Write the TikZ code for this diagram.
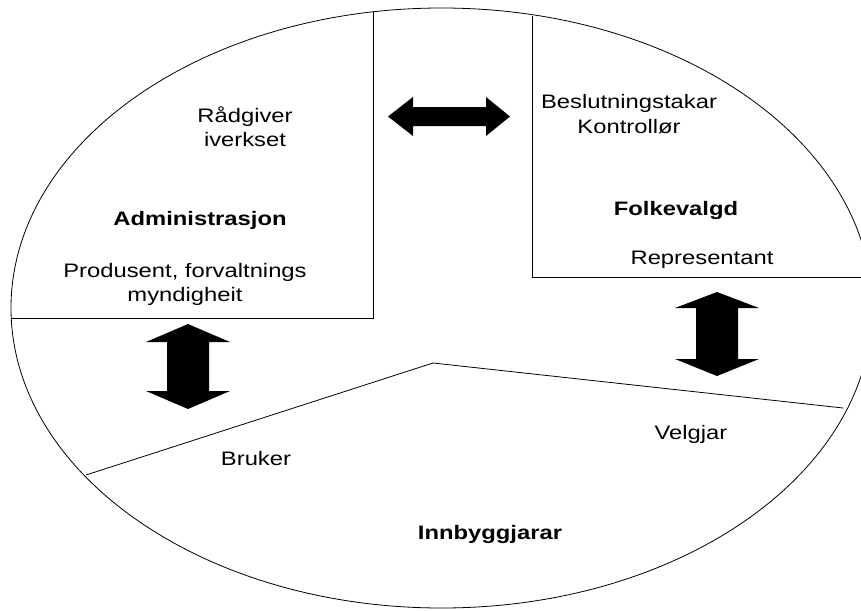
\documentclass[tikz,border=0pt]{standalone}
\usepackage{fontspec}
\setmainfont{Liberation Sans}[FakeStretch=1.22]
\usetikzlibrary{positioning}

\begin{document}
\begin{tikzpicture}[x=1pt,y=-1pt,line width=.8pt,
  every node/.style={font=\fontsize{19.5}{24}\selectfont,inner sep=0pt,anchor=base},
  title/.style={font=\fontsize{19.5}{24}\selectfont\bfseries},
  blockarrow/.style={fill=black}]
\useasboundingbox (0,0) rectangle (861,610);
\clip (0,0) rectangle (861,610);
\draw (441.6,308) ellipse [x radius=430.6, y radius=300];
\coordinate (a0) at (373,12);
\coordinate (a1) at (373,318);
\coordinate (a2) at (11,318);
\coordinate (f0) at (532,16);
\coordinate (f1) at (532,277);
\coordinate (f2) at (865,277);
\coordinate (i0) at (86,475);
\coordinate (i1) at (433,363);
\coordinate (i2) at (843,408);
\draw (a0)--(a1)--(a2);
\draw (f0)--(f1)--(f2);
\draw (i0)--(i1)--(i2);
\fill[blockarrow] (388,116.5)--(413,97)--(413,107)--(486,107)--(486,97)--(510,116.5)--(486,136)--(486,126)--(413,126)--(413,136)--cycle;
\fill[blockarrow] (188,324)--(230,342)--(209,342)--(209,391)--(230,391)--(188,409)--(146,391)--(167,391)--(167,342)--(146,342)--cycle;
\fill[blockarrow] (717,292)--(759,308)--(738,308)--(738,359)--(759,359)--(717,376)--(675,359)--(696,359)--(696,308)--(675,308)--cycle;
\node (radgiver) at (245,122) {Rådgiver};
\node (iverkset) at (245,146) {iverkset};
\node[title] (adm) at (200,225) {Administrasjon};
\node (produsent) at (185,277) {Produsent, forvaltnings};
\node (myndighet) at (185,301) {myndigheit};
\node (beslutning) at (629,108) {Beslutningstakar};
\node (kontroll) at (629,133) {Kontrollør};
\node[title] (folk) at (676,215.5) {Folkevalgd};
\node (repr) at (702,264) {Representant};
\node (bruker) at (256,465) {Bruker};
\node (velgjar) at (691,439) {Velgjar};
\node[title] (innb) at (490,539) {Innbyggjarar};
\end{tikzpicture}
\end{document}
